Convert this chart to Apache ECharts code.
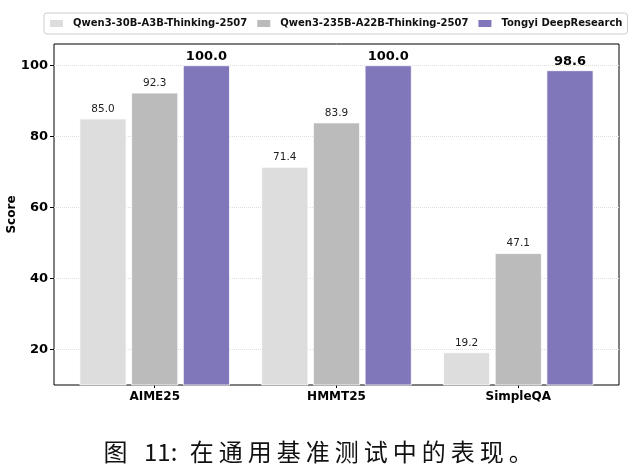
<!DOCTYPE html>
<html><head><meta charset="utf-8">
<script src="https://cdn.jsdelivr.net/npm/echarts@6/dist/echarts.min.js"></script>
<style>html,body{margin:0;padding:0;background:#fff}#c{width:634px;height:476px}</style>
</head><body><div id="c"></div>
<script>
const categories = ['AIME25', 'HMMT25', 'SimpleQA'];
const seriesNames = ['Qwen3-30B-A3B-Thinking-2507', 'Qwen3-235B-A22B-Thinking-2507', 'Tongyi DeepResearch'];
const qwen30b = [85.0, 71.4, 19.2];
const qwen235b = [92.3, 83.9, 47.1];
const tongyi = [100.0, 100.0, 98.6];
const yTicks = [20, 40, 60, 80, 100];
const captionFig = '图';
const captionNum = '11:';
const captionText = '在通用基准测试中的表现。';

const colors = ['#dddddd', '#bbbbbb', '#8076ba'];
const font = 'DejaVu Sans';
const yMin = 10, yMax = 106;

function barSeries(name, data, color, strong) {
  return {
    name, type: 'bar', data, xAxisIndex: 1, yAxisIndex: 1,
    barWidth: 47, barGap: '10%',
    itemStyle: { color, borderColor: '#fff', borderWidth: 0.8 },
    label: {
      show: true, position: 'top', distance: strong ? 2 : 4,
      formatter: p => p.value.toFixed(1),
      fontFamily: font, fontSize: strong ? 13 : 10.5,
      fontWeight: strong ? 'bold' : 'normal', color: strong ? '#000' : '#222'
    }
  };
}

const capFont = { fontFamily: 'Noto Sans CJK SC', fontSize: 24, fontWeight: 'normal', color: '#111' };
const cjkCell = Object.assign({}, capFont, { padding: [0, 2.5, 0, 2.5] });
const captionRich = '{k|' + captionFig + '}{b|' + captionNum + '}' +
  Array.from(captionText).map(ch => '{k|' + ch + '}').join('');

const chart = echarts.init(document.getElementById('c'), null, { renderer: 'canvas' });
chart.setOption({
  animation: false,
  backgroundColor: '#fff',
  title: {
    text: captionRich,
    left: 96, top: 435,
    textStyle: Object.assign({}, capFont, {
      rich: {
        k: cjkCell,
        b: Object.assign({}, capFont, { padding: [0, 10, 0, 14] })
      }
    })
  },
  legend: {
    data: seriesNames, top: 13, left: 44, width: 577,
    itemWidth: 15, itemHeight: 9, itemGap: 8,
    padding: [5, 5, 5, 4], borderColor: '#cccccc', borderWidth: 1, borderRadius: 3,
    backgroundColor: '#fff',
    icon: 'rect',
    textStyle: { fontFamily: font, fontSize: 10, fontWeight: 'bold', color: '#111', padding: [0, 0, 0, 4] }
  },
  grid: [
    { left: 54, right: 15, top: 44, bottom: 91, show: true, borderColor: '#000', borderWidth: 1, backgroundColor: 'transparent', containLabel: false, outerBoundsMode: 'none' },
    { left: 63.8, right: 24.8, top: 44, bottom: 91, containLabel: false, outerBoundsMode: 'none' }
  ],
  xAxis: [
    { gridIndex: 0, type: 'category', data: categories, show: false },
    {
      gridIndex: 1, type: 'category', data: categories,
      axisLine: { show: false },
      axisTick: { show: true, alignWithLabel: true, length: 3, lineStyle: { color: '#000' } },
      axisLabel: { fontFamily: font, fontSize: 12, fontWeight: 'bold', color: '#000', margin: 6 }
    }
  ],
  yAxis: [
    {
      gridIndex: 0, type: 'value', min: yMin, max: yMax,
      name: 'Score', nameLocation: 'middle', nameGap: 36, nameMoveOverlap: false,
      nameTextStyle: { fontFamily: font, fontSize: 12, fontWeight: 'bold', color: '#000' },
      axisLine: { show: false },
      axisTick: { show: true, customValues: yTicks, length: 4, lineStyle: { color: '#000' } },
      axisLabel: { customValues: yTicks, fontFamily: font, fontSize: 13, fontWeight: 'bold', color: '#000', margin: 6 },
      splitLine: { show: true, lineStyle: { color: '#dddddd', type: 'dotted', width: 1 } }
    },
    { gridIndex: 1, type: 'value', min: yMin, max: yMax, show: false, splitLine: { show: false } }
  ],
  series: [
    barSeries(seriesNames[0], qwen30b, colors[0], false),
    barSeries(seriesNames[1], qwen235b, colors[1], false),
    barSeries(seriesNames[2], tongyi, colors[2], true)
  ]
});
</script></body></html>
